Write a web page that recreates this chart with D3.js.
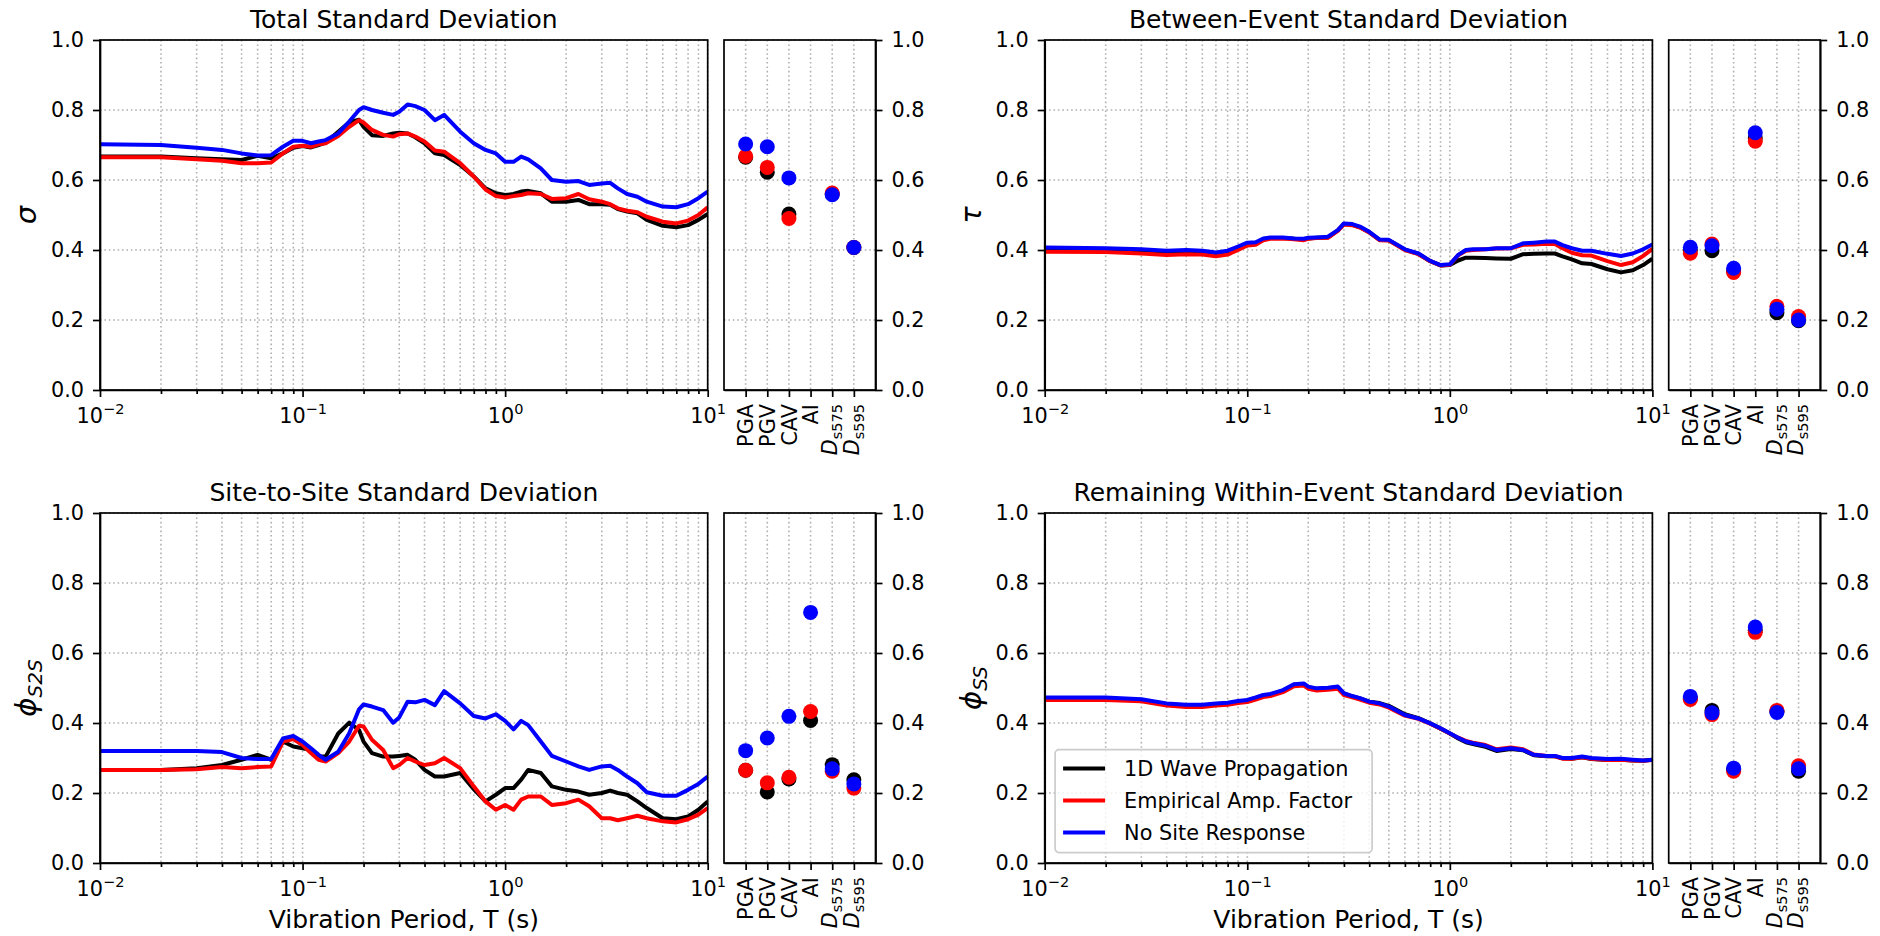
<!DOCTYPE html>
<html>
<head>
<meta charset="utf-8">
<script src="https://cdn.jsdelivr.net/npm/d3@7"></script>
<style>
  body { margin: 0; background: #fff; }
  svg text { font-family: "DejaVu Sans", sans-serif; fill: #000; }
  .tick text { font-size: 20.8px; }
  .domain { stroke: #000; stroke-width: 1.7; }
  .tick line { stroke: #000; stroke-width: 1.7; }
  .grid line { stroke: #b0b0b0; stroke-width: 1.6; stroke-dasharray: 1.6, 2.8; }
</style>
</head>
<body>
<svg id="fig" width="1880" height="936"></svg>
<script>
// vibration periods (s) at which the curves were read
var periods = [0.01, 0.02, 0.03, 0.04, 0.05, 0.06, 0.07, 0.08, 0.09, 0.1, 0.11, 0.12, 0.13, 0.15, 0.17, 0.19, 0.2, 0.22, 0.25, 0.28,
  0.3, 0.33, 0.36, 0.4, 0.45, 0.5, 0.6, 0.7, 0.8, 0.9, 1.0, 1.1, 1.2, 1.3, 1.5, 1.7, 2.0, 2.3, 2.6, 3.0,
  3.3, 3.6, 4.0, 4.5, 5.0, 6.0, 7.0, 8.0, 9.0, 10];

var imCats = ["PGA", "PGV", "CAV", "AI", "Ds575", "Ds595"];
var methods = ["1D Wave Propagation", "Empirical Amp. Factor", "No Site Response"];
var colors = ["black", "red", "blue"];
var yTicks = [0, 0.2, 0.4, 0.6, 0.8, 1.0];

// total standard deviation
var totalWave = [0.667,0.667,0.662,0.659,0.657,0.669,0.662,0.676,0.692,0.697,0.693,0.700,0.707,0.738,0.765,0.772,0.752,0.728,0.726,0.733,
  0.735,0.733,0.722,0.705,0.676,0.671,0.643,0.610,0.576,0.562,0.557,0.560,0.567,0.569,0.562,0.538,0.538,0.543,0.531,0.531,
  0.529,0.517,0.510,0.505,0.486,0.469,0.465,0.471,0.486,0.503];
var totalEmp = [0.665,0.665,0.659,0.655,0.648,0.648,0.650,0.676,0.695,0.698,0.695,0.702,0.705,0.726,0.752,0.771,0.764,0.743,0.729,0.724,
  0.731,0.733,0.724,0.710,0.684,0.681,0.648,0.610,0.573,0.554,0.550,0.554,0.557,0.562,0.560,0.546,0.548,0.560,0.545,0.538,
  0.531,0.519,0.512,0.508,0.495,0.481,0.476,0.484,0.500,0.522];
var totalNone = [0.702,0.700,0.692,0.686,0.676,0.670,0.671,0.695,0.712,0.712,0.705,0.710,0.714,0.733,0.767,0.800,0.808,0.800,0.792,0.786,
  0.795,0.816,0.811,0.800,0.771,0.786,0.738,0.705,0.686,0.676,0.652,0.652,0.667,0.659,0.633,0.600,0.595,0.597,0.586,0.590,
  0.592,0.576,0.560,0.552,0.538,0.524,0.522,0.531,0.548,0.567];

// between-event
var betweenWave = [0.400,0.399,0.396,0.392,0.394,0.393,0.388,0.392,0.405,0.417,0.418,0.430,0.434,0.434,0.432,0.430,0.433,0.435,0.436,0.456,
  0.474,0.472,0.465,0.451,0.429,0.428,0.401,0.389,0.368,0.356,0.357,0.370,0.378,0.378,0.377,0.376,0.375,0.388,0.389,0.390,
  0.390,0.382,0.373,0.362,0.360,0.345,0.336,0.342,0.357,0.375];
var betweenEmp = [0.395,0.394,0.390,0.386,0.388,0.387,0.382,0.387,0.400,0.413,0.415,0.428,0.432,0.433,0.431,0.428,0.432,0.434,0.435,0.455,
  0.473,0.471,0.464,0.450,0.428,0.427,0.400,0.388,0.368,0.356,0.358,0.385,0.398,0.400,0.402,0.404,0.405,0.415,0.416,0.418,
  0.417,0.405,0.392,0.385,0.384,0.368,0.357,0.365,0.383,0.403];
var betweenNone = [0.407,0.405,0.402,0.398,0.400,0.398,0.393,0.398,0.410,0.421,0.422,0.433,0.436,0.436,0.433,0.432,0.435,0.436,0.438,0.457,
  0.476,0.474,0.467,0.452,0.430,0.429,0.402,0.390,0.369,0.357,0.359,0.386,0.400,0.402,0.402,0.405,0.405,0.419,0.421,0.424,
  0.424,0.414,0.405,0.398,0.398,0.389,0.383,0.390,0.402,0.416];

// site-to-site
var siteWave = [0.266,0.266,0.271,0.280,0.295,0.309,0.295,0.347,0.333,0.328,0.323,0.304,0.304,0.370,0.401,0.380,0.347,0.314,0.304,0.304,
  0.306,0.309,0.295,0.266,0.247,0.247,0.257,0.211,0.176,0.195,0.214,0.214,0.238,0.266,0.257,0.219,0.209,0.204,0.195,0.200,
  0.207,0.200,0.195,0.176,0.157,0.128,0.125,0.133,0.152,0.176];
var siteEmp = [0.266,0.266,0.268,0.274,0.271,0.274,0.276,0.347,0.354,0.337,0.314,0.295,0.290,0.314,0.347,0.392,0.390,0.352,0.323,0.271,
  0.280,0.300,0.290,0.280,0.285,0.300,0.271,0.219,0.176,0.152,0.166,0.152,0.181,0.190,0.190,0.166,0.171,0.181,0.162,0.128,
  0.128,0.122,0.128,0.135,0.128,0.119,0.116,0.125,0.138,0.157];
var siteNone = [0.320,0.320,0.320,0.317,0.300,0.297,0.297,0.356,0.363,0.347,0.328,0.309,0.295,0.318,0.371,0.439,0.453,0.447,0.437,0.401,
  0.416,0.461,0.459,0.466,0.451,0.491,0.456,0.420,0.413,0.425,0.406,0.382,0.406,0.394,0.347,0.306,0.290,0.276,0.266,0.276,
  0.278,0.266,0.247,0.228,0.202,0.192,0.192,0.209,0.226,0.247];

// remaining within-event
var ssWave = [0.470,0.470,0.466,0.454,0.450,0.450,0.454,0.456,0.461,0.464,0.471,0.478,0.481,0.492,0.509,0.511,0.502,0.497,0.499,0.502,
  0.484,0.476,0.470,0.461,0.457,0.449,0.425,0.414,0.399,0.384,0.370,0.356,0.345,0.340,0.332,0.320,0.326,0.322,0.308,0.305,
  0.305,0.299,0.298,0.302,0.297,0.294,0.295,0.293,0.292,0.295];
var ssEmp = [0.466,0.466,0.462,0.450,0.446,0.446,0.450,0.452,0.457,0.460,0.467,0.474,0.477,0.488,0.505,0.507,0.498,0.493,0.495,0.498,
  0.480,0.473,0.467,0.458,0.453,0.444,0.421,0.412,0.398,0.384,0.370,0.358,0.349,0.344,0.337,0.325,0.330,0.325,0.310,0.306,
  0.305,0.298,0.298,0.302,0.298,0.294,0.295,0.293,0.292,0.294];
var ssNone = [0.473,0.473,0.468,0.456,0.452,0.452,0.456,0.458,0.463,0.466,0.473,0.480,0.483,0.494,0.511,0.513,0.504,0.499,0.501,0.504,
  0.485,0.477,0.471,0.461,0.456,0.447,0.423,0.413,0.399,0.385,0.371,0.358,0.347,0.342,0.335,0.323,0.328,0.323,0.309,0.306,
  0.306,0.300,0.300,0.304,0.300,0.297,0.298,0.295,0.293,0.295];

// intensity measures (PGA, PGV, CAV, AI, Ds575, Ds595)
var totalWaveIM = [0.665, 0.622, 0.503, null, 0.560, 0.407];
var totalEmpIM = [0.668, 0.636, 0.490, null, 0.563, 0.407];
var totalNoneIM = [0.703, 0.695, 0.606, null, 0.558, 0.407];
var betweenWaveIM = [0.400, 0.398, 0.340, 0.720, 0.221, 0.198];
var betweenEmpIM = [0.391, 0.417, 0.336, 0.711, 0.239, 0.210];
var betweenNoneIM = [0.408, 0.412, 0.348, 0.735, 0.231, 0.200];
var siteWaveIM = [0.265, 0.203, 0.240, 0.407, 0.281, 0.238];
var siteEmpIM = [0.265, 0.229, 0.245, 0.433, 0.262, 0.214];
var siteNoneIM = [0.321, 0.357, 0.419, 0.716, 0.269, 0.226];
var ssWaveIM = [0.470, 0.436, 0.268, 0.665, 0.433, 0.262];
var ssEmpIM = [0.467, 0.424, 0.262, 0.659, 0.436, 0.278];
var ssNoneIM = [0.476, 0.429, 0.271, 0.674, 0.430, 0.269];

var panels = [
  { title: "Total Standard Deviation", sym: "σ", sub: "", lines: [totalWave, totalEmp, totalNone], pts: [totalWaveIM, totalEmpIM, totalNoneIM] },
  { title: "Between-Event Standard Deviation", sym: "τ", sub: "", lines: [betweenWave, betweenEmp, betweenNone], pts: [betweenWaveIM, betweenEmpIM, betweenNoneIM] },
  { title: "Site-to-Site Standard Deviation", sym: "ϕ", sub: "S2S", lines: [siteWave, siteEmp, siteNone], pts: [siteWaveIM, siteEmpIM, siteNoneIM] },
  { title: "Remaining Within-Event Standard Deviation", sym: "ϕ", sub: "SS", lines: [ssWave, ssEmp, ssNone], pts: [ssWaveIM, ssEmpIM, ssNoneIM] }
];

// layout
var colX = [100, 1044.7], rowY = [40, 513];
var mainW = 607.7, H = 350, smallOff = 624, smallW = 151.5;

var svg = d3.select("#fig");

panels.forEach(function (p, i) {
  var x0 = colX[i % 2], y0 = rowY[Math.floor(i / 2)];
  var x = d3.scaleLog().domain([0.01, 10]).range([0, mainW]);
  var y = d3.scaleLinear().domain([0, 1]).range([H, 0]);

  var g = svg.append("g").attr("transform", "translate(" + x0 + "," + y0 + ")");

  g.append("clipPath").attr("id", "clip" + i)
    .append("rect").attr("width", mainW).attr("height", H);

  // grid
  g.append("g").attr("class", "grid").selectAll("line").data(x.ticks()).join("line")
    .attr("x1", function (d) { return x(d); }).attr("x2", function (d) { return x(d); })
    .attr("y1", 0).attr("y2", H);
  g.append("g").attr("class", "grid").selectAll("line").data(yTicks).join("line")
    .attr("x1", 0).attr("x2", mainW)
    .attr("y1", function (d) { return y(d); }).attr("y2", function (d) { return y(d); });

  // curves
  var line = d3.line()
    .x(function (d, k) { return x(periods[k]); })
    .y(function (d) { return y(d); });
  g.append("g").attr("clip-path", "url(#clip" + i + ")")
    .selectAll("path").data(p.lines).join("path")
    .attr("d", line)
    .attr("fill", "none")
    .attr("stroke", function (d, k) { return colors[k]; })
    .attr("stroke-width", 4)
    .attr("stroke-linejoin", "round");

  // x axis (log)
  var majors = [0.01, 0.1, 1, 10];
  var minors = x.ticks().filter(function (d) { return majors.indexOf(d) < 0; });
  var xa = g.append("g").attr("transform", "translate(0," + H + ")")
    .call(d3.axisBottom(x).tickValues(majors).tickSize(7).tickSizeOuter(0).tickFormat(""));
  xa.selectAll(".tick text").attr("y", 33).attr("dy", 0).each(function (d) {
    var t = d3.select(this);
    var e = Math.round(Math.log10(d));
    t.append("tspan").text("10");
    t.append("tspan").attr("dy", -9).style("font-size", "14.5px").text(e < 0 ? "\u2212" + (-e) : e);
  });
  g.append("g").attr("transform", "translate(0," + H + ")")
    .call(d3.axisBottom(x).tickValues(minors).tickSize(4).tickSizeOuter(0).tickFormat(""))
    .select(".domain").remove();

  // y axis
  g.append("g")
    .call(d3.axisLeft(y).tickValues(yTicks).tickSize(7).tickSizeOuter(0).tickPadding(9).tickFormat(d3.format(".1f")));

  // frame
  g.append("rect").attr("width", mainW).attr("height", H)
    .attr("fill", "none").attr("stroke", "#000").attr("stroke-width", 1.7);

  // title
  g.append("text").attr("x", mainW / 2).attr("y", -12.5)
    .attr("text-anchor", "middle").style("font-size", "25px").text(p.title);

  // y label
  var yl = g.append("text")
    .attr("transform", "translate(-74," + (H / 2) + ") rotate(-90)")
    .attr("text-anchor", "middle").attr("dy", "0.35em")
    .style("font-size", "29px");
  yl.append("tspan").style("font-style", "italic").text(p.sym);
  if (p.sub) {
    yl.append("tspan").attr("dy", 6).style("font-size", "20px").style("font-style", "italic").text(p.sub);
  }

  // x label on bottom row
  if (i >= 2) {
    g.append("text").attr("x", mainW / 2).attr("y", H + 65)
      .attr("text-anchor", "middle").style("font-size", "25px").text("Vibration Period, T (s)");
  }

  // intensity-measure panel
  var s = g.append("g").attr("transform", "translate(" + smallOff + ",0)");
  var xs = d3.scalePoint().domain(imCats).range([0, smallW]).padding(1);

  s.append("g").attr("class", "grid").selectAll("line").data(imCats).join("line")
    .attr("x1", function (d) { return xs(d); }).attr("x2", function (d) { return xs(d); })
    .attr("y1", 0).attr("y2", H);
  s.append("g").attr("class", "grid").selectAll("line").data(yTicks).join("line")
    .attr("x1", 0).attr("x2", smallW)
    .attr("y1", function (d) { return y(d); }).attr("y2", function (d) { return y(d); });

  p.pts.forEach(function (arr, k) {
    s.append("g").selectAll("circle")
      .data(arr.map(function (v, j) { return { c: imCats[j], v: v }; }).filter(function (d) { return d.v !== null; }))
      .join("circle")
      .attr("cx", function (d) { return xs(d.c); })
      .attr("cy", function (d) { return y(d.v); })
      .attr("r", 7.5)
      .attr("fill", colors[k]);
  });

  var sa = s.append("g").attr("transform", "translate(0," + H + ")")
    .call(d3.axisBottom(xs).tickSize(7).tickSizeOuter(0));
  sa.selectAll(".tick text").each(function (d) {
    var t = d3.select(this).text(null)
      .attr("transform", "rotate(-90)")
      .attr("text-anchor", "end")
      .attr("x", -14).attr("y", 0).attr("dy", "0.35em");
    if (d.charAt(0) === "D") {
      t.attr("y", -3);
      t.append("tspan").style("font-style", "italic").text("D");
      t.append("tspan").attr("dy", 5).style("font-size", "14.5px").text(d.slice(1));
    } else {
      t.text(d);
    }
  });

  s.append("g").attr("transform", "translate(" + smallW + ",0)")
    .call(d3.axisRight(y).tickValues(yTicks).tickSize(7).tickSizeOuter(0).tickPadding(9).tickFormat(d3.format(".1f")));

  s.append("rect").attr("width", smallW).attr("height", H)
    .attr("fill", "none").attr("stroke", "#000").attr("stroke-width", 1.7);

  // legend in the last panel
  if (i === 3) {
    var lg = g.append("g").attr("transform", "translate(10.4," + (H - 10.4 - 103) + ")");
    lg.append("rect").attr("width", 317).attr("height", 103).attr("rx", 4)
      .attr("fill", "#fff").attr("fill-opacity", 0.8).attr("stroke", "#cccccc").attr("stroke-width", 1.7);
    methods.forEach(function (m, k) {
      var yy = 19 + k * 32;
      lg.append("line").attr("x1", 8).attr("x2", 50).attr("y1", yy).attr("y2", yy)
        .attr("stroke", colors[k]).attr("stroke-width", 4);
      lg.append("text").attr("x", 69).attr("y", yy).attr("dy", "0.35em")
        .style("font-size", "20.8px").text(m);
    });
  }
});
</script>
</body>
</html>
